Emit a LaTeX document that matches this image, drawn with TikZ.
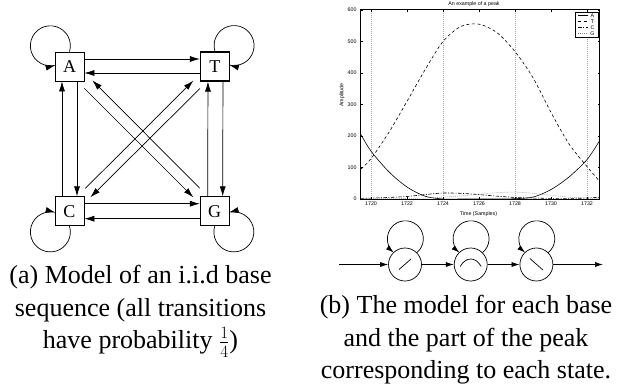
\documentclass[tikz,border=0pt]{standalone}
\usepackage{fontspec}
\setmainfont{Liberation Serif}
\newfontfamily\plotfont{Liberation Sans}
\usetikzlibrary{arrows.meta, positioning, calc}

\begin{document}
\begin{tikzpicture}[
x=1pt, y=-1pt,
line width=0.7pt,
base/.style={draw, minimum size=29pt, inner sep=0pt, font=\fontsize{18}{18}\selectfont},
state/.style={draw, circle, minimum size=33pt, inner sep=0pt},
arrow/.style={-{Latex[length=10pt,width=6pt]}},
smallarrow/.style={-{Latex[length=8pt,width=5pt]}},
caption/.style={align=center, inner sep=0pt, anchor=north, font=\fontsize{26}{32.5}\selectfont},
plotlabel/.style={font=\plotfont\fontsize{5.3}{6}\selectfont, inner sep=0.5pt},
frame/.style={line width=1pt},
grid/.style={gray!70, line width=0.4pt, dash pattern=on 0.5pt off 1.5pt},
lineA/.style={line width=0.6pt},
lineT/.style={line width=0.6pt, dash pattern=on 3pt off 2.5pt},
lineC/.style={line width=0.6pt, dash pattern=on 3.5pt off 1.5pt on 1pt off 1.5pt},
lineG/.style={line width=0.6pt, gray, dash pattern=on 0.7pt off 1.3pt}
]
\useasboundingbox (0,0) rectangle (620,383);

% (a) i.i.d. base model
\node[base] (A) at (69.5,66.5) {A};
\node[base, line width=1.2pt, right=115.5pt of A] (T) {T};
\node[base, below=115pt of A] (C) {C};
\node[base, right=115.5pt of C] (G) {G};

\draw[arrow] ($(A.east)+(0,-7.5)$) -- ($(T.west)+(0,-7.5)$);
\draw[arrow] ($(T.west)+(0,6.5)$) -- ($(A.east)+(0,6.5)$);
\draw[arrow] ($(A.south)+(7.5,0)$) -- ($(C.north)+(7.5,0)$);
\draw[arrow] ($(C.north)+(-7.5,0)$) -- ($(A.south)+(-7.5,0)$);
\draw[arrow] ($(T.south)+(8,0)$) -- ($(G.north)+(8,0)$);
\draw[arrow] ($(G.north)+(-7,0)$) -- ($(T.south)+(-7,0)$);
\draw[arrow] ($(C.east)+(0,-7.5)$) -- ($(G.west)+(0,-7.5)$);
\draw[arrow] ($(G.west)+(0,7.5)$) -- ($(C.east)+(0,7.5)$);

\draw[arrow] ($(A.south east)+(0,7)$) -- ($(G.north west)+(-6.5,1)$);
\draw[arrow] ($(G.north west)+(0,-8)$) -- ($(A.south east)+(8,-1)$);
\draw[arrow] ($(C.north east)+(1,-8)$) -- ($(T.south west)+(-6.5,-1)$);
\draw[arrow] ($(T.south west)+(0,7)$) -- ($(C.north east)+(6,1)$);

% self loops
\draw[arrow] (A.north) arc[start angle=17, end angle=-285, radius=20];
\draw[arrow] (T.north) arc[start angle=163, end angle=465, radius=20];
\draw[arrow] (C.south) arc[start angle=-17, end angle=285, radius=20];
\draw[arrow] (G.south) arc[start angle=197, end angle=-105, radius=20];

\node[caption] (capa) at (140.5,265) {(a) Model of an i.i.d base\\sequence (all transitions\\have probability $\frac{1}{4}$)};

% (b) peak plot
\begin{scope}[shift={(371,199)}, x=18pt, y=0.315pt]
  \foreach \t in {0,4,8,12}
    \draw[grid] (\t,0) -- (\t,600);
  \begin{scope}
    \clip (-0.56,0) rectangle (12.72,600);
    \draw[lineA] plot[smooth] coordinates {(-0.56,205) (0,152) (1,86) (2,38) (3,9) (4,0) (5,0) (6,0) (7,0) (8,1) (9,6) (10,30) (11,70) (12,125) (12.72,187)};
    \draw[lineT] plot[smooth] coordinates {(-0.56,95) (0,128) (1,212) (2,310) (3,410) (4,500) (5,548) (6,555) (7,528) (8,468) (9,385) (10,275) (11,175) (12,103) (12.72,55)};
    \draw[lineC] plot[smooth] coordinates {(-0.56,2) (0,3) (1,5) (2,8) (3,14) (4,19) (5,18) (6,14) (7,9) (8,5) (9,3) (10,2) (11,2) (12,3) (12.72,6)};
    \draw[lineG] plot[smooth] coordinates {(-0.56,1) (1,1) (3,3) (4,6) (5,10) (6,15) (7,20) (8,22) (9,18) (10,12) (11,6) (12,3) (12.72,2)};
  \end{scope}
  \draw[frame] (-0.56,0) rectangle (12.72,600);
  \foreach \t in {0,2,...,12} {
    \pgfmathtruncatemacro{\lab}{1720+\t}
    \draw[line width=0.5pt] (\t,0) -- ++(0,2pt) (\t,600) -- ++(0,-2pt);
    \node[plotlabel, anchor=north, yshift=-1.5pt] (xt\t) at (\t,0) {\lab};
  }
  \foreach \v in {0,100,...,600} {
    \draw[line width=0.5pt] (-0.56,\v) -- ++(2pt,0) (12.72,\v) -- ++(-2pt,0);
    \node[plotlabel, anchor=east, xshift=-3.5pt] (yt\v) at (-0.56,\v) {\v};
  }
\end{scope}
\node[plotlabel] (title) at (474,4) {An example of a peak};
\node[plotlabel] (xlabel) at (478.5,214) {Time (Samples)};
\node[plotlabel, rotate=90] (ylabel) at (342,95) {Amplitude};

% legend
\node[draw, fill=white, line width=1pt, minimum width=23pt, minimum height=25pt, inner sep=0pt] (legend) at (587,25) {};
\foreach \y/\b in {15.5/A,21.5/T,27.5/C,33.5/G} {
  \draw[line\b] (578,\y) -- (588,\y);
  \node[plotlabel] (leg\b) at (592.5,\y) {\b};
}

% (b) model of one base
\node[state] (s1) at (405,264.5) {};
\node[state, right=32pt of s1] (s2) {};
\node[state, right=32pt of s2] (s3) {};
\coordinate (in) at (339,264.5);
\coordinate (out) at (603,264.5);
\draw[smallarrow] (in) -- (s1);
\draw[smallarrow] (s1) -- (s2);
\draw[smallarrow] (s2) -- (s3);
\draw[smallarrow] (s3) -- (out);
\foreach \s in {s1,s2,s3}
  \draw[smallarrow] (\s.45) arc[start angle=50, end angle=-230, radius=18];
\draw ([shift={(-6,5)}]s1.center) -- ([shift={(6,-5.5)}]s1.center);
\draw ([shift={(-10.5,2)}]s2.center) .. controls ([shift={(-5,-8)}]s2.center) and ([shift={(5,-8)}]s2.center) .. ([shift={(10.5,2)}]s2.center);
\draw ([shift={(-6.5,-6)}]s3.center) -- ([shift={(6.5,5.5)}]s3.center);

\node[caption] (capb) at (466,295) {(b) The model for each base\\and the part of the peak\\corresponding to each state.};
\end{tikzpicture}
\end{document}
